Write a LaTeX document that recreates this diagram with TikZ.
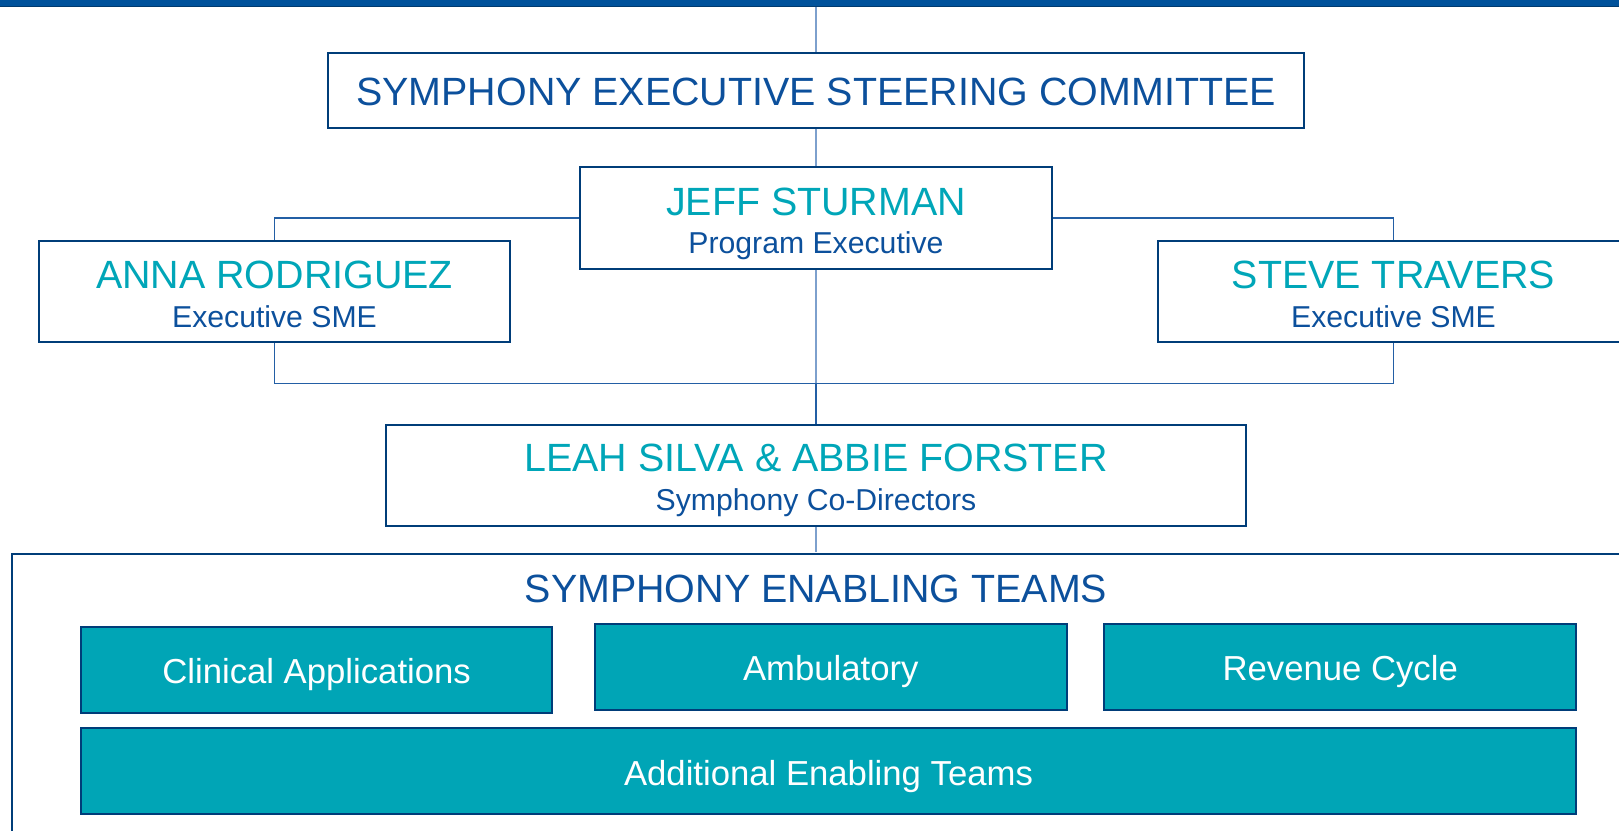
\documentclass[tikz,border=0pt]{standalone}
\usepackage{fontspec}
\setmainfont{Liberation Sans}
\definecolor{barblue}{RGB}{0,82,155}
\definecolor{bardark}{RGB}{0,58,110}
\definecolor{navy}{RGB}{0,61,121}
\definecolor{textblue}{RGB}{12,80,156}
\definecolor{nameteal}{RGB}{0,166,184}
\definecolor{fillteal}{RGB}{0,165,182}
\definecolor{linedark}{RGB}{35,95,165}
\definecolor{linelight}{RGB}{125,160,205}
\tikzset{
  wbox/.style={draw=navy, line width=2.4pt, fill=white, inner sep=0pt},
  tbox/.style={draw=navy, line width=2.2pt, fill=fillteal, inner sep=0pt},
  outerbox/.style={draw=navy, line width=2pt, fill=white, inner sep=0pt},
  nametext/.style={anchor=base, inner sep=0pt, text=nameteal, font=\fontsize{39.4}{44}\selectfont},
  titletext/.style={anchor=base, inner sep=0pt, text=textblue, font=\fontsize{39.4}{44}\selectfont},
  roletext/.style={anchor=base, inner sep=0pt, text=textblue, font=\fontsize{30.2}{34}\selectfont},
  teamtext/.style={anchor=base, inner sep=0pt, text=white, font=\fontsize{34.7}{40}\selectfont},
  darkline/.style={draw=linedark, line width=1.2pt},
  lightline/.style={draw=linelight, line width=1.4pt},
}
\begin{document}
\begin{tikzpicture}[x=1pt,y=-1pt]
\useasboundingbox (0,0) rectangle (1619,830);
\clip (0,0) rectangle (1619,830);
\fill[white] (0,0) rectangle (1619,830);

% coordinates for connector junctions
\coordinate (topc) at (816,6);
\coordinate (junc) at (816,383.3);

% enabling teams outer box (extends past page edge)
\node[outerbox, minimum width=1608pt, minimum height=296pt] (enab) at (816,702.3) {};

% boxes
\node[wbox, minimum width=976pt, minimum height=75pt] (steer) at (816,90.2) {};
\node[wbox, minimum width=472pt, minimum height=102pt] (jeff) at (816,218) {};
\node[wbox, minimum width=471pt, minimum height=101pt] (anna) at (274.5,291.3) {};
\node[wbox, minimum width=471pt, minimum height=101pt] (steve) at (1393.5,291.3) {};
\node[wbox, minimum width=860pt, minimum height=101pt] (leah) at (816,475.3) {};

% connector lines between nodes
\draw[lightline] (topc) -- (steer.north);
\draw[lightline] (steer.south) -- (jeff.north);
\draw[lightline] (jeff.south) -- (junc);
\draw[lightline, shorten >=1pt] (leah.south) -- (enab.north);
\draw[darkline] (jeff.west) -| (anna.north);
\draw[darkline] (jeff.east) -| (steve.north);
\draw[darkline] (anna.south) |- (junc) -| (steve.south);
\draw[darkline] (junc) -- (leah.north);

% team boxes
\node[tbox, minimum width=471.3pt, minimum height=85.4pt] (clin) at (316.6,670) {};
\node[tbox, minimum width=471.7pt, minimum height=86pt] (amb) at (830.8,667) {};
\node[tbox, minimum width=471.7pt, minimum height=86pt] (rev) at (1340.2,667) {};
\node[tbox, minimum width=1495pt, minimum height=86pt] (add) at (828.5,771.3) {};

% texts
\node[titletext] (steerT) at (816,105) {SYMPHONY EXECUTIVE STEERING COMMITTEE};
\node[nametext] (jeffN) at (816,215.7) {JEFF STURMAN};
\node[roletext] (jeffR) at (816,253.3) {Program Executive};
\node[nametext] (annaN) at (274.5,288.3) {ANNA RODRIGUEZ};
\node[roletext] (annaR) at (274.5,327) {Executive SME};
\node[nametext] (steveN) at (1393.5,288.3) {STEVE TRAVERS};
\node[roletext] (steveR) at (1393.5,327) {Executive SME};
\node[nametext] (leahN) at (816,471.7) {LEAH SILVA \& ABBIE FORSTER};
\node[roletext] (leahR) at (816,510.7) {Symphony Co-Directors};
\node[titletext] (enabT) at (816,602) {SYMPHONY ENABLING TEAMS};
\node[teamtext] (clinT) at (316.6,683) {Clinical Applications};
\node[teamtext] (ambT) at (830.8,680) {Ambulatory};
\node[teamtext] (revT) at (1340.2,680) {Revenue Cycle};
\node[teamtext] (addT) at (828.5,785) {Additional Enabling Teams};

% top bar
\fill[barblue] (0,0) rectangle (1619,6);
\fill[bardark] (0,5.5) rectangle (1619,7.2);
\end{tikzpicture}
\end{document}
